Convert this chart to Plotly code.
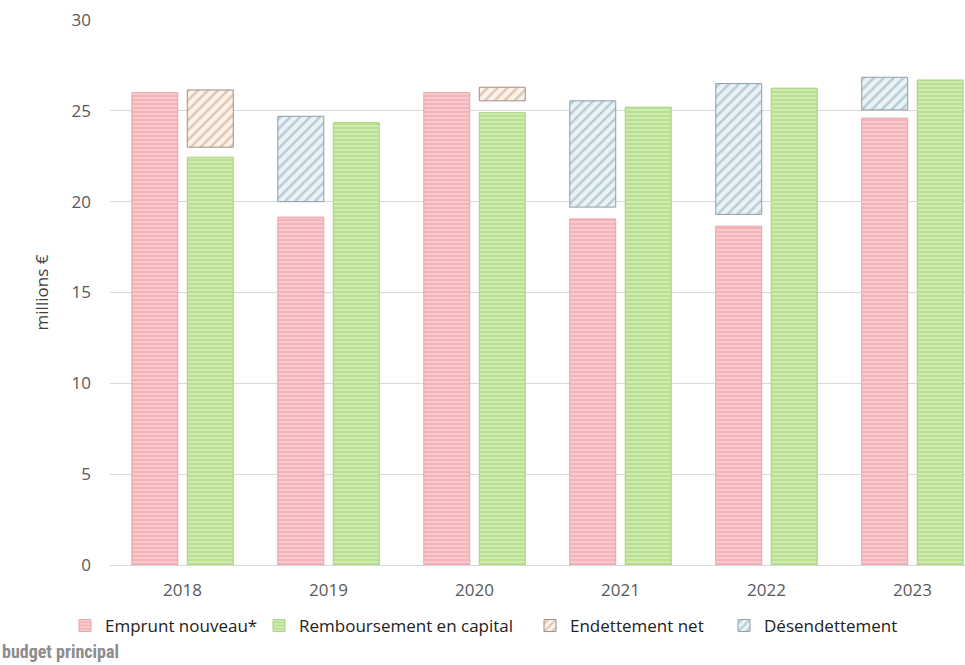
import plotly.graph_objects as go

years = ["2018", "2019", "2020", "2021", "2022", "2023"]
emprunt = [26.0, 19.15, 26.0, 19.05, 18.65, 24.6]
remboursement = [22.45, 24.35, 24.9, 25.2, 26.25, 26.7]
# Endettement net (floating boxes, in the green slot): low / high
endet_years = ["2018", "2020"]
endet_low = [23.0, 25.55]
endet_high = [26.15, 26.3]
# Désendettement (floating boxes, in the red slot): low / high
desend_years = ["2019", "2021", "2022", "2023"]
desend_low = [20.0, 19.7, 19.3, 25.05]
desend_high = [24.7, 25.55, 26.5, 26.85]

RED_OFF, GREEN_OFF, W = -0.19, 0.19, 0.315
idx = {y: i for i, y in enumerate(years)}

fig = go.Figure()
fig.add_trace(go.Bar(
    name="Emprunt nouveau*", x=[idx[y] + RED_OFF for y in years], y=emprunt, width=W,
    legend="legend",
    marker=dict(color="#f3b3b8", line=dict(color="#eaa3a9", width=1),
                pattern=dict(shape="-", fgcolor="#fde9ea", size=4, solidity=0.45, fillmode="overlay")),
))
fig.add_trace(go.Bar(
    name="Remboursement en capital", x=[idx[y] + GREEN_OFF for y in years], y=remboursement, width=W,
    legend="legend2",
    marker=dict(color="#b9e08f", line=dict(color="#a9d27e", width=1),
                pattern=dict(shape="-", fgcolor="#eaf7dc", size=4, solidity=0.45, fillmode="overlay")),
))
fig.add_trace(go.Bar(
    name="Endettement net", x=[idx[y] + GREEN_OFF for y in endet_years],
    y=[h - l for h, l in zip(endet_high, endet_low)], base=endet_low, width=W,
    legend="legend3",
    marker=dict(color="#fcf2ea", line=dict(color="#a08f85", width=1),
                pattern=dict(shape="/", fgcolor="#c29a7c", size=7, solidity=0.35, fillmode="overlay")),
))
fig.add_trace(go.Bar(
    name="Désendettement", x=[idx[y] + RED_OFF for y in desend_years],
    y=[h - l for h, l in zip(desend_high, desend_low)], base=desend_low, width=W,
    legend="legend4",
    marker=dict(color="#e8f3f8", line=dict(color="#8e9ea5", width=1),
                pattern=dict(shape="/", fgcolor="#8aa3ad", size=7, solidity=0.35, fillmode="overlay")),
))

PLOT_L, PLOT_W, PLOT_B, PLOT_H = 110, 855, 565, 545
leg_y = -(626 - PLOT_B) / PLOT_H
def leg(text_x):
    return dict(x=(text_x - 41 - PLOT_L) / PLOT_W, xanchor="left", y=leg_y, yanchor="middle",
                orientation="h", font=dict(family="Open Sans, sans-serif", size=17, color="#222222"),
                itemwidth=30, bgcolor="rgba(0,0,0,0)")

fig.update_layout(
    width=965, height=665, barmode="overlay",
    margin=dict(l=PLOT_L, r=0, t=20, b=100),
    paper_bgcolor="white", plot_bgcolor="white",
    font=dict(family="Open Sans, sans-serif", color="#595959", size=17),
    xaxis=dict(tickvals=list(range(len(years))), ticktext=years, range=[-0.497, 5.36],
               showgrid=False, zeroline=False, showline=True, linecolor="#d9d9d9",
               ticks="", ticklabelstandoff=10, tickfont=dict(size=17, color="#595959")),
    yaxis=dict(range=[0, 30], dtick=5, showgrid=True, gridcolor="#d9d9d9", zeroline=False,
               ticks="", ticklabelstandoff=18, tickfont=dict(size=17, color="#595959"),
               title=dict(text="millions €", font=dict(size=17, color="#404040"), standoff=18)),
    legend=leg(106),
    legend2=leg(300),
    legend3=leg(571),
    legend4=leg(765),
    showlegend=True,
)
fig.add_annotation(text="<b>budget principal</b>", xref="paper", yref="paper",
                   x=-PLOT_L / PLOT_W, y=-(651 - PLOT_B) / PLOT_H, xanchor="left", yanchor="middle",
                   showarrow=False,
                   font=dict(family="Liberation Sans Narrow, Roboto Condensed, Arial Narrow, sans-serif",
                             size=18, color="#8c8c8c"))
fig.write_html("out.html")
